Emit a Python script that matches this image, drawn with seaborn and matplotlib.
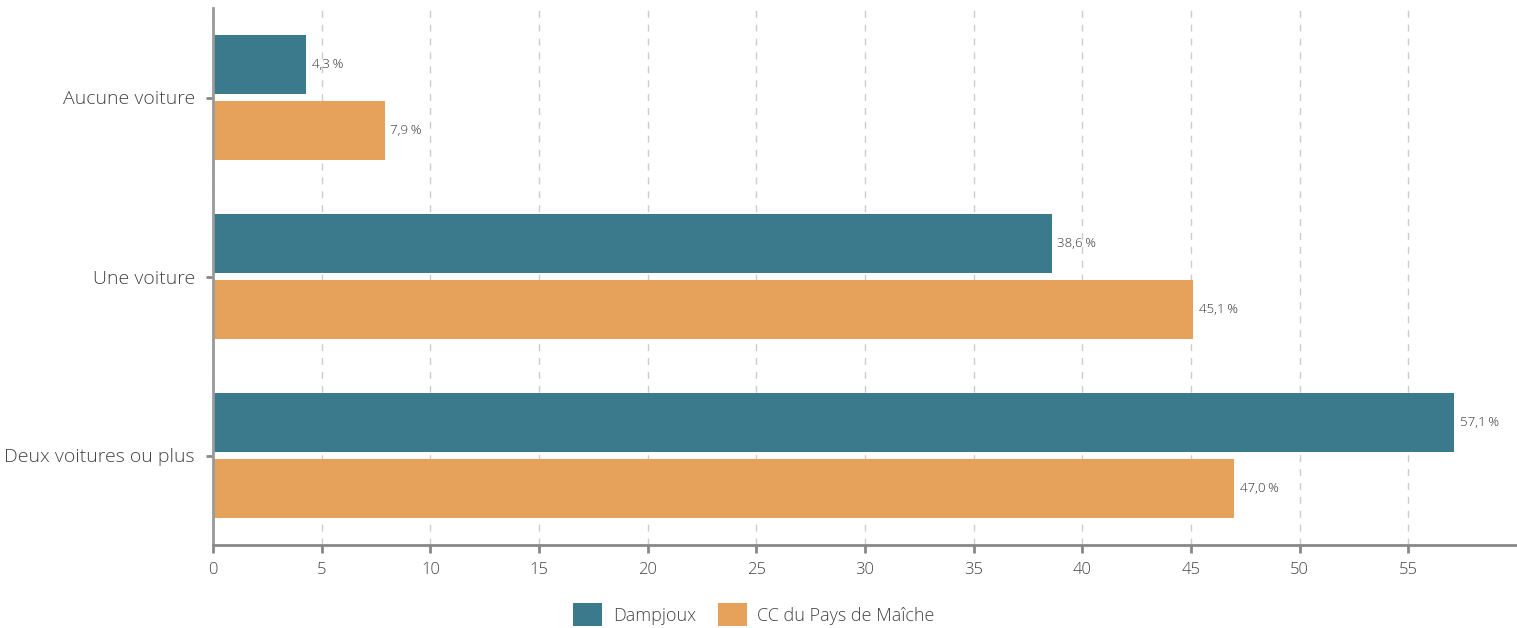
import matplotlib
matplotlib.use("Agg")
import matplotlib.pyplot as plt
import seaborn as sns
import pandas as pd

categories = ["Aucune voiture", "Une voiture", "Deux voitures ou plus"]
series_names = ["Dampjoux", "CC du Pays de Maîche"]
dampjoux = [4.3, 38.6, 57.1]
cc_maiche = [7.9, 45.1, 47.0]
xticks = [0, 5, 10, 15, 20, 25, 30, 35, 40, 45, 50, 55]
colors = ["#3A7A8C", "#E6A15B"]

df = pd.DataFrame({
    "cat": categories * 2,
    "serie": [series_names[0]] * 3 + [series_names[1]] * 3,
    "val": dampjoux + cc_maiche,
})

sns.set_theme(style="white")
plt.rcParams['font.family'] = ['Open Sans', 'DejaVu Sans']
txt = "#444444"

fig = plt.figure(figsize=(15.17, 6.28), dpi=100)
ax = fig.add_axes([213/1517, 1-545/628, 1-213/1517, (545-8)/628])

sns.barplot(data=df, y="cat", x="val", hue="serie", order=categories,
            hue_order=series_names, palette=colors, width=0.74, gap=0.12,
            orient="h", ax=ax, saturation=1, legend=True, linewidth=0, edgecolor="none")

for cont in ax.containers:
    labels = [f"{v:.1f}".replace(".", ",") + "\u2009%" for v in cont.datavalues]
    ax.bar_label(cont, labels=labels, padding=4, fontsize=9.5, color="#333333", fontweight="light")

ax.set_xlim(0, 60)
ax.set_ylim(2.5, -0.5)
ax.set_xticks(xticks)
ax.set_xticklabels([str(t) for t in xticks], fontsize=12, color=txt, fontweight="light")
for lab in ax.get_yticklabels():
    lab.set_fontweight("light")
ax.tick_params(axis="y", labelsize=14, labelcolor=txt, left=True, length=5,
               color="#888888", width=2, pad=8, direction="out")
ax.tick_params(axis="x", bottom=True, length=6, color="#888888", width=2, pad=6, direction="out")
ax.set_xlabel("")
ax.set_ylabel("")
ax.xaxis.grid(True, linestyle=(0, (5, 5)), color="#cccccc", linewidth=1)
ax.yaxis.grid(False)
ax.set_axisbelow(True)
for s in ["top", "right"]:
    ax.spines[s].set_visible(False)
ax.spines["bottom"].set_color("#888888")
ax.spines["bottom"].set_linewidth(2)
ax.spines["left"].set_color("#999999")
ax.spines["left"].set_linewidth(2)

leg = ax.legend(loc="upper center", ncol=2, frameon=False, fontsize=13,
                handlelength=1.6, handleheight=1.6,
                handletextpad=0.6, columnspacing=1.2)
for t in leg.get_texts():
    t.set_color(txt)
    t.set_fontweight("light")
leg.set_bbox_to_anchor((0.497, 1-587/628), transform=fig.transFigure)

fig.savefig("out.png", dpi=100)
